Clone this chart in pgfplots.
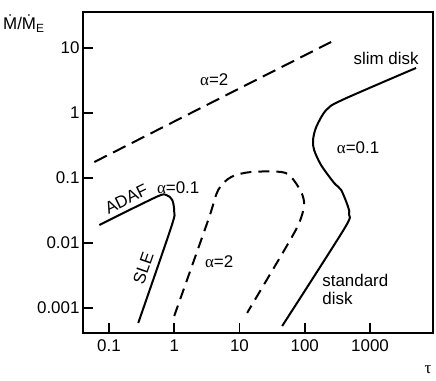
\documentclass[border=0pt]{standalone}
\usepackage{pgfplots}
\pgfplotsset{compat=1.18}
\usepackage{fontspec}
\setmainfont{Liberation Sans}
\newfontfamily\grk{Liberation Serif}
\newcommand{\al}{{\grk α}}

\begin{document}
\begin{tikzpicture}[font=\fontsize{17}{18}\selectfont]
\useasboundingbox (-83bp,-48bp) rectangle (353bp,333bp);
\begin{axis}[
  at={(0,0)}, anchor=south west,
  width=350bp, height=321bp, scale only axis,
  xmode=log, ymode=log,
  xmin=0.04, xmax=9230, ymin=0.000412, ymax=35.8,
  xtick={0.1,1,10,100,1000}, xticklabels={0.1,1,10,100,1000},
  ytick={0.001,0.01,0.1,1,10}, yticklabels={0.001,0.01,0.1,1,10},
  xminorticks=false, yminorticks=false,
  tick align=inside, xtick pos=bottom, ytick pos=left,
  major tick length=10bp,
  axis line style={line width=1.5bp},
  every tick/.style={line width=1.5bp, black},
  tick label style={font=\fontsize{17}{18}\selectfont},
  xticklabel style={yshift=-3bp},
  clip=false,
]
% alpha=2, upper dashed line
\addplot[line width=2bp, dash pattern=on 14bp off 7bp] coordinates {(0.0596,0.176) (254,12.4)};
% alpha=0.1, slim disk / standard disk
\addplot[line width=2bp, smooth, tension=0.5] coordinates {
  (45.1,0.000528) (401,0.0164) (479,0.027) (462,0.0358) (361,0.0654) (282,0.0838)
  (178,0.158) (139,0.27) (134,0.384) (150,0.609) (213,1.11) (374,1.585) (5080,4.93)};
% alpha=2, middle dashed curve
\addplot[line width=2bp, smooth, tension=0.5, dash pattern=on 11bp off 7bp] coordinates {
  (1.0,0.000753) (3.32,0.0226) (4.72,0.0654) (7.46,0.1036) (15.1,0.1237) (43.5,0.1237)
  (61.9,0.1036) (88.1,0.061) (97.9,0.0384) (82.1,0.0203) (51.9,0.00868) (13.1,0.00084)};
% alpha=0.1, ADAF / SLE
\addplot[line width=2bp, smooth, tension=0.5] coordinates {
  (0.071,0.0189) (0.53,0.051) (0.754,0.0548) (0.932,0.0459) (1.0,0.030) (0.90,0.0176) (0.281,0.000588)};

\node at (axis cs:4.1,3.2) {\al=2};
\node at (axis cs:657,0.29) {\al=0.1};
\node at (axis cs:1765,7.0) {slim disk};
\node[anchor=west, align=left, inner sep=0pt] at (axis cs:185,0.00196) {standard\\disk};
\node at (axis cs:4.89,0.0051) {\al=2};
\node[rotate=26] at (axis cs:0.184,0.0475) {ADAF};
\node at (axis cs:1.15,0.0702) {\al=0.1};
\node[rotate=71] at (axis cs:0.335,0.00412) {SLE};
\node at (rel axis cs:-0.169,0.963) {\.M/\.M\textsubscript{E}};
\node at (rel axis cs:0.986,-0.115) {\grk τ};
\end{axis}
\end{tikzpicture}
\end{document}
